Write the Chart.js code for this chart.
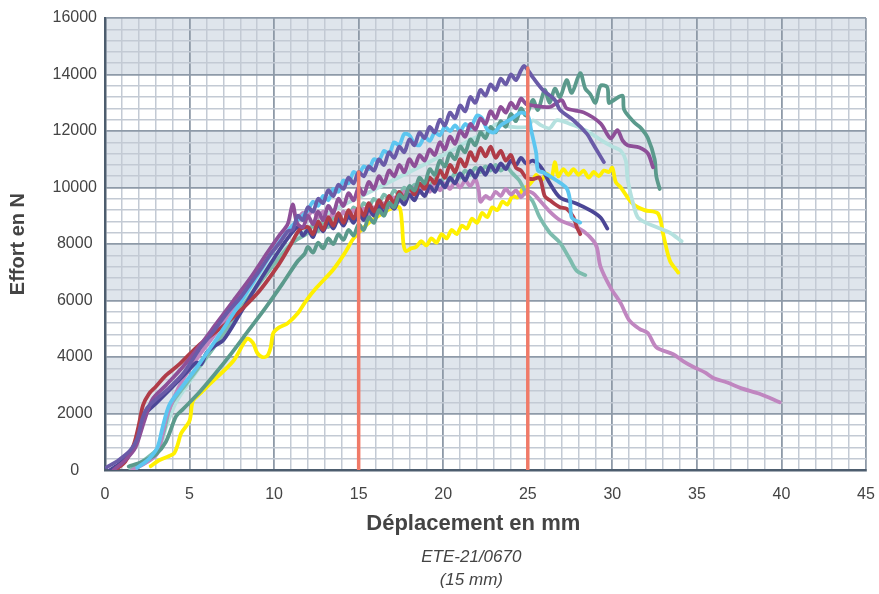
<!DOCTYPE html>
<html>
<head>
<meta charset="utf-8">
<script src="https://cdn.jsdelivr.net/npm/chart.js@4.4.1/dist/chart.umd.min.js"></script>
<style>
  html, body { margin: 0; padding: 0; background: #fff; }
  #wrap { width: 879px; height: 594px; }
</style>
</head>
<body>
<div id="wrap"><canvas id="graphique" width="879" height="594"></canvas></div>
<script>
// essais ETE-21/0670 : effort (N) en fonction du déplacement (mm)
const xTicks = [0, 5, 10, 15, 20, 25, 30, 35, 40, 45];
const yTicks = [0, 2000, 4000, 6000, 8000, 10000, 12000, 14000, 16000];
const bandes = [[2000, 4000], [6000, 8000], [10000, 12000], [14000, 16000]];

const repere15 = [[15, 0], [15, 10550]];
const repere25 = [[25, 0], [25, 14230]];

const essaiArdoise = [[0.1,100],[0.8,350],[1.5,700],[1.9,1100],[2.2,1800],[2.5,2200],[3.1,2550],[3.7,2850],[4.6,3400],[5.6,4300],[6.4,4900],[7.2,5550],[8,6100],[8.6,6600],[9.3,7200],[9.8,7650],[10.4,8100],[10.8,8450],
  [11.1,8500],[11.4,9000],[11.7,8850],[12,9300],[12.3,9150],[12.6,9600],[12.9,9450],[13.2,9900],[13.5,9700],[13.8,10100],[14.1,9950],[14.4,10350],[14.7,10150],[15,10550],[15.3,10400],[15.6,10750],[15.9,10600],[16.2,11000],[16.5,10800],[16.8,11250],[17.1,11050],[17.4,11450],[17.7,11250],[18,11700],[18.3,11500],[18.6,11950],[18.9,11750],[19.2,12150],[19.5,11950],[19.8,12400],[20.1,12200],[20.4,12650],[20.7,12450],[21,12900],[21.3,12700],[21.6,13200],[21.9,13000],[22.2,13450],[22.5,13250],[22.8,13650],[23.1,13450],[23.4,13850],[23.7,13650],[24,14000],[24.3,13800],[24.6,14150],[24.8,14300],
  [25.3,13900],[25.9,13450],[26.6,13100],[26.9,12750],[27.7,12380],[28.5,11900],[28.8,11600],[29.2,11200],[29.5,10900]];

const essaiPrune = [[0.5,0],[1.2,350],[1.8,800],[2.3,1700],[2.8,2500],[3.6,3000],[4.6,3650],[5.6,4400],[6.6,5200],[7.6,6000],[8.6,6800],[9.6,7700],[10.3,8300],[10.8,8700],[11.1,9400],[11.35,8750],[11.7,8600],
  [12,9000],[12.3,8700],[12.6,9150],[12.9,8850],[13.2,9350],[13.5,9100],[13.8,9600],[14.1,9350],[14.4,9800],[14.7,9550],[15,10000],[15.3,9750],[15.6,10200],[15.9,9950],[16.2,10400],[16.5,10150],[16.8,10600],[17.1,10400],[17.4,10800],[17.7,10550],[18,11000],[18.3,10750],[18.6,11150],[18.9,10950],[19.2,11350],[19.5,11150],[19.8,11600],[20.1,11350],[20.4,11800],[20.7,11550],[21,12000],[21.3,11800],[21.6,12250],[21.9,12050],[22.2,12450],[22.5,12250],[22.8,12700],[23.1,12450],[23.4,12850],[23.7,12650],[24,13000],[24.3,12800],[24.6,13150],[24.9,12950],[25.3,12900],
  [26.3,12850],[27,13090],[27.3,12800],[28.3,12660],[29.3,12270],[29.9,11740],[30.3,12030],[30.6,11670],[30.9,11500],[31.6,11420],[32.1,11210],[32.4,10720]];

const essaiVertFonce = [[1.4,130],[2.2,300],[3,550],[3.6,1000],[4.2,1900],[4.6,2150],[5.5,2700],[6.5,3400],[7.5,4150],[8.5,4950],[9.5,5750],[10.5,6600],[11.4,7400],[11.8,7650],
  [12,7900],[12.3,7700],[12.6,8050],[12.9,7850],[13.2,8200],[13.5,8000],[13.8,8350],[14.1,8150],[14.4,8500],[14.7,8300],[15,8700],[15.3,8500],[15.6,8950],[15.9,8750],[16.2,9200],[16.5,9000],[16.8,9450],[17.1,9300],[17.4,9750],[17.7,9600],[18,10050],[18.3,9900],[18.6,10350],[18.9,10150],[19.2,10650],[19.5,10450],[19.8,10950],[20.1,10750],[20.4,11200],[20.7,11000],[21,11450],[21.3,11250],[21.6,11700],[21.9,11500],[22.2,11950],[22.5,11750],[22.8,12150],[23.1,11950],[23.4,12350],[23.7,12150],[24,12600],[24.3,12350],[24.6,12800],[24.9,12550],[25.3,13100],[25.6,12750],[26,13450],[26.3,13000],[26.6,13500],[26.9,13200],[27.3,13800],[27.6,13350],[28.1,14050],[28.4,13500],[28.7,13300],[29,13000],[29.3,13600],[29.7,13550],[29.8,13000],[30.1,13100],[30.6,13250],[30.7,12750],[31.3,12300],[31.7,12100],[32.1,11750],[32.5,11000],[32.6,10400],[32.8,9950]];

const essaiTurquoise = [[1.7,80],[2.5,300],[3.2,700],[3.6,1500],[4.2,2400],[5.2,3300],[6.5,4400],[8,5800],[9.5,7100],[10.5,7800],[11.5,8300],[12.5,8800],[13.5,9200],[14.5,9500],[15.5,9800],[16.5,10100],[17.5,10400],[18.5,10700],[19.5,11000],[20.5,11300],[21.5,11650],[22.5,11950],[23.2,12250],[24,12150],[25,12150],[25.3,12380],[25.8,12200],[26.3,12100],[26.7,12380],[27.5,12250],[28.5,12000],[29.4,11650],[30,11450],[30.5,11300],[30.8,10950],[30.9,10300],[31.2,9500],[31.5,8950],[32,8750],[32.6,8600],[33.4,8400],[34.1,8100]];

const essaiCiel = [[1.9,80],[2.6,400],[3.1,800],[3.4,1500],[3.8,2300],[4.5,2900],[5.5,3700],[7,5000],[8.5,6400],[10,7800],[11,8600],[12,9200],
  [12.3,9500],[12.6,9350],[12.9,9700],[13.2,9550],[13.5,9950],[13.8,9850],[14.1,10250],[14.4,10150],[14.7,10550],[15,10450],[15.3,10750],[15.6,10650],[15.9,11000],[16.2,10950],[16.5,11300],[16.8,11200],[17.1,11600],[17.4,11500],[17.7,11900],[18,11850],[18.3,11550],[18.6,11500],[18.9,11800],[19.2,11650],[19.5,11950],[19.8,11850],[20.1,12150],[20.4,12000],[20.7,12200],[21,12000],[21.3,12250],[21.6,12100],[22,12550],[22.3,12450],[22.6,12050],[23,11950],[23.4,12200],[23.8,12350],[24.2,12500],[24.6,12650],[25,12550],
  [25.2,12030],[25.5,11210],[25.6,10600],[25.9,10540],[26.7,10250],[27.3,9970],[27.5,9540],[27.6,8940],[28.1,8760]];

const essaiRouge = [[0.6,0],[1.2,300],[1.7,900],[2,1600],[2.25,2300],[2.6,2700],[3,2950],[3.6,3350],[4.4,3750],[5.6,4450],[7.2,5200],[9,6250],[10.3,7300],[11,8000],[11.5,8500],[12,8600],
  [12.3,8350],[12.6,8800],[12.9,8500],[13.2,8950],[13.5,8650],[13.8,9100],[14.1,8750],[14.4,9200],[14.7,8900],[15,9300],[15.3,9000],[15.6,9450],[15.9,9150],[16.2,9550],[16.5,9300],[16.8,9700],[17.1,9450],[17.4,9850],[17.7,9600],[18,10000],[18.3,9750],[18.6,10150],[18.9,9950],[19.2,10350],[19.5,10150],[19.8,10600],[20.1,10350],[20.4,10800],[20.7,10550],[21,11000],[21.3,10750],[21.6,11250],[21.9,10950],[22.2,11400],[22.5,11100],[22.8,11450],[23.1,11050],[23.4,11300],[23.7,10950],[24,11150],[24.3,10700],[24.6,10600],[24.9,10350],
  [25.3,10300],[25.7,10350],[26,9700],[26.3,9550],[26.9,9300],[27.3,9250],[27.7,8950],[27.9,8600],[28.1,8350]];

const essaiMarine = [[0.3,0],[1,300],[1.7,800],[2.1,1500],[2.4,2000],[3,2350],[4,2950],[4.8,3450],[5.4,3800],[5.7,3750],[6,4150],[6.5,4400],[7,4600],[8,5550],[9,6550],[10,7500],[10.8,8200],[11.4,8600],[11.7,8300],[12,8500],[12.3,8250],
  [12.6,8700],[12.9,8450],[13.2,8800],[13.5,8550],[13.8,8900],[14.1,8650],[14.4,9000],[14.7,8750],[15,9100],[15.3,8850],[15.6,9250],[15.9,9000],[16.2,9350],[16.5,9100],[16.8,9450],[17.1,9250],[17.4,9600],[17.7,9400],[18,9750],[18.3,9550],[18.6,9900],[18.9,9700],[19.2,10050],[19.5,9850],[19.8,10250],[20.1,10000],[20.4,10350],[20.7,10150],[21,10500],[21.3,10250],[21.6,10600],[21.9,10350],[22.2,10700],[22.5,10450],[22.8,10800],[23.1,10550],[23.4,10850],[23.7,10650],[24,10950],[24.3,10800],[24.6,11050],[24.9,10850],
  [25.3,10950],[25.8,10700],[26.3,10150],[26.9,9650],[27.9,9430],[28.7,9190],[29.3,8940],[29.7,8550]];

const essaiVertClair = [[1.5,0],[2.3,350],[3.1,750],[3.5,1400],[3.9,2300],[5,3200],[6.5,4400],[8,5700],[9.5,6900],[11,8000],[12,8400],
  [12.3,8650],[12.6,8450],[12.9,8800],[13.2,8600],[13.5,8950],[13.8,8800],[14.1,9150],[14.4,8950],[14.7,9300],[15,9150],[15.3,9450],[15.6,9300],[15.9,9600],[16.2,9450],[16.5,9750],[16.8,9600],[17.1,9900],[17.4,9750],[17.7,10000],[18,9850],[18.3,10100],[18.6,9950],[18.9,10200],[19.2,10050],[19.5,10300],[19.8,10150],[20.1,10400],[20.4,10250],[20.7,10500],[21,10350],[21.3,10600],[21.6,10450],[21.9,10700],[22.2,10550],[22.5,10750],[22.8,10600],[23.1,10800],[23.4,10600],[23.7,10750],[24.1,10500],[24.5,10250],[24.9,9800],
  [25.3,9500],[25.7,8950],[26.3,8400],[26.9,8050],[27.5,7450],[27.9,7050],[28.4,6900]];

const essaiOrchidee = [[1.6,0],[2.4,250],[3.1,600],[3.6,1800],[4.1,2600],[4.6,3200],[5.5,4000],[6.5,4800],[8,6100],[9.5,7400],[10.5,8200],[11.2,8700],[11.7,9100],[12,9000],
  [12.3,9200],[12.6,8950],[12.9,9150],[13.2,8850],[13.5,9100],[13.8,8850],[14.1,9150],[14.4,8900],[14.7,9200],[15,8950],[15.3,9250],[15.6,9000],[15.9,9300],[16.2,9100],[16.5,9450],[16.8,9300],[17.1,9650],[17.4,9500],[17.7,9850],[18,9700],[18.3,10000],[18.6,9800],[18.9,10100],[19.2,9850],[19.5,10150],[19.8,9900],[20.1,10150],[20.4,9950],[20.7,10200],[21,10000],[21.3,10250],[21.6,10050],[21.9,10300],[22.1,9900],[22.2,9500],[22.5,9700],[22.8,9600],[23.1,9850],[23.4,9700],[23.7,9950],[24,9750],[24.3,9900],[24.6,9650],[24.9,9850],
  [25.3,9800],[25.7,9550],[26.3,9150],[26.9,8850],[27.7,8650],[28.3,8450],[28.9,8100],[29.1,7850],[29.3,7200],[29.9,6450],[30.5,5900],[31,5300],[31.6,5000],[32.1,4850],[32.6,4350],[33.6,4100],[34.2,3850],[34.8,3650],[35.5,3450],[36,3250],[36.8,3100],[37.6,2900],[38.7,2700],[39.9,2400]];

const essaiJaune = [[2.7,140],[3.2,350],[3.8,500],[4.1,600],[4.3,900],[4.5,1300],[5,1750],[5.2,2450],[5.7,2750],[6.2,3050],[7.6,3870],[8.4,4650],[8.75,4500],[9,4150],[9.3,4000],[9.6,4050],[9.8,4350],[9.95,4850],[10.3,5050],[10.8,5200],[11.4,5550],[11.9,6000],[12.5,6450],[13.5,7100],[14.2,7700],[14.7,8200],[15.5,8700],[16.3,9050],[16.9,9250],[17.4,9300],[17.55,8800],[17.65,8000],[17.8,7750],[18.1,7850],[18.4,7900],
  [18.7,8100],[19,7950],[19.3,8200],[19.6,8050],[19.9,8350],[20.2,8200],[20.5,8500],[20.8,8350],[21.1,8650],[21.4,8550],[21.7,8900],[22,8750],[22.3,9100],[22.6,8950],[22.9,9300],[23.2,9200],[23.5,9500],[23.8,9400],[24.1,9700],[24.4,9650],[24.7,9950],[25,10050],[25.3,10250],[25.5,10450],[25.8,10250],[26.1,10500],[26.4,10350],[26.6,10900],[26.8,10400],[27.1,10650],[27.4,10450],[27.7,10650],[28,10450],[28.3,10600],[28.6,10350],[28.9,10550],[29.2,10400],[29.5,10600],[29.8,10550],[30,10700],
  [30.2,10200],[30.5,10000],[31.2,9430],[31.9,9200],[32.7,9080],[33,8370],[33.4,7420],[33.9,6990]];

const pts = arr => arr.map(([x, y]) => ({ x, y }));

Chart.defaults.font.family = 'Arial, "Liberation Sans", sans-serif';
Chart.defaults.color = '#444';

// bandes grises horizontales sous la grille
const fondBandes = {
  id: 'fondBandes',
  beforeDraw(chart) {
    const { ctx, chartArea, scales } = chart;
    ctx.save();
    ctx.fillStyle = '#dfe5ec';
    bandes.forEach(([a, b]) => {
      const y1 = scales.y.getPixelForValue(b);
      const y2 = scales.y.getPixelForValue(a);
      ctx.fillRect(chartArea.left, y1, chartArea.right - chartArea.left, y2 - y1);
    });
    ctx.restore();
  }
};

const courbe = (data, color, width) => ({
  data: pts(data),
  borderColor: color,
  borderWidth: width || 3.8,
  pointRadius: 0,
  tension: 0.3,
  fill: false,
  borderCapStyle: 'round',
  borderJoinStyle: 'round'
});

const ctx = document.getElementById('graphique').getContext('2d');
new Chart(ctx, {
  type: 'line',
  data: {
    datasets: [
      courbe(repere15, '#f07a68', 3.5),
      courbe(repere25, '#f07a68', 3.5),
      courbe(essaiArdoise, '#6a5ba8'),
      courbe(essaiPrune, '#8e4f98'),
      courbe(essaiCiel, '#5cc6f0'),
      courbe(essaiVertFonce, '#5b9a8c'),
      courbe(essaiRouge, '#b03c48'),
      courbe(essaiMarine, '#4b4696'),
      courbe(essaiOrchidee, '#c086c0'),
      courbe(essaiVertClair, '#7dbcae'),
      courbe(essaiTurquoise, '#b5e1df'),
      courbe(essaiJaune, '#fff000')
    ]
  },
  options: {
    responsive: false,
    animation: false,
    layout: { padding: { left: 0, right: 13, top: 18, bottom: 0 } },
    plugins: {
      legend: { display: false },
      tooltip: { enabled: false },
      title: {
        display: true,
        position: 'bottom',
        fullSize: false,
        text: ['ETE-21/0670      ', '(15 mm)      '],
        color: '#444',
        font: { size: 17, style: 'italic', weight: 'normal', lineHeight: 1.35 },
        padding: { top: 6, bottom: 2 }
      }
    },
    scales: {
      x: {
        type: 'linear',
        min: 0,
        max: 45,
        afterFit(scale) {
          scale.height = 70;
          scale.paddingLeft = 0;
          scale.paddingRight = 0;
        },
        ticks: {
          stepSize: 1,
          maxTicksLimit: 100,
          autoSkip: false,
          maxRotation: 0,
          padding: 15,
          font: { size: 16 },
          color: '#444',
          callback: v => xTicks.includes(v) ? v : ''
        },
        grid: {
          drawTicks: false,
          color: c => xTicks.includes(c.tick.value) ? '#8e9aa8' : '#c3cad4',
          lineWidth: c => xTicks.includes(c.tick.value) ? 1.8 : 1.5
        },
        border: { color: '#4d5d6e', width: 2.5 },
        title: {
          display: true,
          text: 'Déplacement en mm    ',
          color: '#444',
          font: { size: 22, weight: 'bold' },
          padding: { top: 0, bottom: 3 }
        }
      },
      y: {
        min: 0,
        max: 16000,
        afterFit(scale) { scale.width = 105; },
        ticks: {
          stepSize: 400,
          maxTicksLimit: 100,
          autoSkip: false,
          crossAlign: 'center',
          padding: 8,
          font: { size: 16 },
          color: '#444',
          callback: v => yTicks.includes(v) ? v : ''
        },
        grid: {
          drawTicks: false,
          color: c => yTicks.includes(c.tick.value) ? '#8e9aa8' : '#c3cad4',
          lineWidth: c => yTicks.includes(c.tick.value) ? 1.8 : 1.5
        },
        border: { color: '#4d5d6e', width: 2.5 },
        title: {
          display: true,
          text: 'Effort en N',
          color: '#444',
          font: { size: 20, weight: 'bold' },
          padding: { top: 6, bottom: 0 }
        }
      }
    }
  },
  plugins: [fondBandes]
});
</script>
</body>
</html>
